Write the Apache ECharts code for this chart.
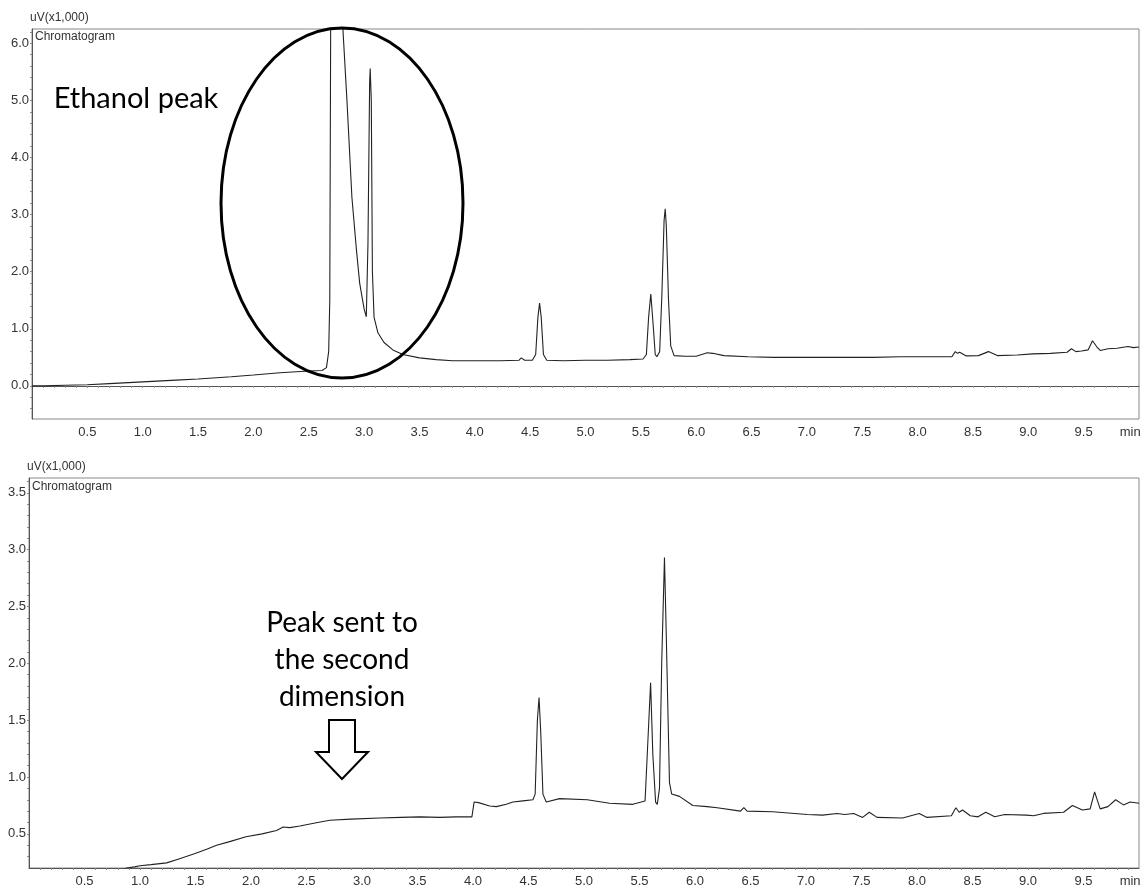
<!DOCTYPE html>
<html>
<head>
<meta charset="utf-8">
<script src="https://cdn.jsdelivr.net/npm/echarts@6/dist/echarts.min.js"></script>
<style>
html,body{margin:0;padding:0;background:#fff;}
#chart{width:1145px;height:892px;}
</style>
</head>
<body>
<div id="chart"></div>
<script>
// ---- Data (time in min, signal in uV x1,000) ----
const topTime = [0.00,0.10,0.30,0.50,0.70,1.00,1.30,1.50,1.80,2.00,2.24,2.50,2.62,2.66,2.68,2.69,2.70,2.80,2.81,2.845,2.89,2.93,2.96,3.00,3.02,3.035,3.05,3.055,3.065,3.075,3.09,3.125,3.18,3.26,3.35,3.50,3.65,3.80,4.00,4.23,4.40,4.42,4.45,4.52,4.55,4.57,4.585,4.60,4.62,4.65,4.80,5.00,5.20,5.40,5.52,5.55,5.57,5.59,5.61,5.63,5.645,5.67,5.69,5.71,5.72,5.73,5.75,5.77,5.80,5.90,6.00,6.05,6.10,6.15,6.25,6.47,6.70,7.00,7.30,7.60,7.84,8.10,8.31,8.34,8.36,8.38,8.44,8.55,8.64,8.72,8.90,9.04,9.20,9.35,9.39,9.43,9.48,9.54,9.58,9.62,9.65,9.72,9.80,9.90,9.95,10.00];
const topSignal = [0.00,0.00,0.01,0.02,0.04,0.07,0.10,0.12,0.16,0.19,0.23,0.26,0.27,0.32,0.60,1.50,7.50,7.50,6.20,5.00,3.30,2.40,1.80,1.35,1.21,2.50,5.30,5.56,5.00,2.00,1.20,0.93,0.76,0.63,0.55,0.49,0.46,0.44,0.44,0.44,0.45,0.49,0.45,0.45,0.55,1.20,1.45,1.20,0.55,0.45,0.44,0.45,0.45,0.46,0.47,0.55,1.20,1.61,1.10,0.55,0.51,0.60,1.60,2.90,3.10,2.80,1.50,0.70,0.53,0.52,0.52,0.55,0.58,0.57,0.53,0.51,0.50,0.50,0.50,0.50,0.51,0.51,0.51,0.60,0.57,0.59,0.525,0.53,0.60,0.53,0.54,0.56,0.57,0.59,0.65,0.60,0.61,0.63,0.79,0.68,0.62,0.65,0.66,0.69,0.67,0.68];

const bottomTime = [0.60,0.88,0.95,1.00,1.10,1.24,1.35,1.49,1.60,1.69,1.80,1.955,2.10,2.23,2.29,2.35,2.44,2.60,2.71,2.90,3.16,3.35,3.52,3.70,3.85,3.99,4.01,4.05,4.15,4.21,4.30,4.36,4.45,4.54,4.56,4.58,4.595,4.61,4.63,4.66,4.78,5.03,5.23,5.44,5.55,5.57,5.60,5.62,5.645,5.66,5.68,5.70,5.725,5.74,5.77,5.79,5.86,5.98,6.11,6.20,6.41,6.44,6.47,6.70,7.01,7.15,7.28,7.35,7.43,7.51,7.57,7.64,7.87,8.02,8.09,8.31,8.35,8.38,8.41,8.48,8.55,8.62,8.70,8.79,8.99,9.05,9.14,9.32,9.40,9.49,9.56,9.60,9.65,9.72,9.79,9.86,9.92,10.00];
const bottomSignal = [0.05,0.20,0.21,0.22,0.23,0.245,0.28,0.325,0.365,0.40,0.43,0.475,0.50,0.53,0.56,0.555,0.57,0.60,0.62,0.63,0.64,0.645,0.65,0.645,0.65,0.65,0.78,0.775,0.745,0.74,0.76,0.78,0.79,0.80,0.85,1.50,1.70,1.40,0.85,0.78,0.81,0.80,0.77,0.76,0.79,1.20,1.83,1.20,0.78,0.76,0.90,2.00,2.93,2.30,0.95,0.85,0.83,0.75,0.74,0.73,0.70,0.73,0.70,0.695,0.67,0.665,0.68,0.67,0.68,0.645,0.69,0.645,0.64,0.68,0.645,0.66,0.73,0.69,0.71,0.66,0.65,0.69,0.65,0.67,0.665,0.66,0.68,0.69,0.75,0.71,0.72,0.87,0.72,0.74,0.80,0.755,0.78,0.77];

// tick / label values
const xLabelValues = [0.5,1.0,1.5,2.0,2.5,3.0,3.5,4.0,4.5,5.0,5.5,6.0,6.5,7.0,7.5,8.0,8.5,9.0,9.5,9.92];
const xUnitLabel = 'min';
const topYLabels = [0,1,2,3,4,5,6];
const bottomYLabels = [0.5,1.0,1.5,2.0,2.5,3.0,3.5];
const yUnitLabel = 'uV(x1,000)';
const panelTitle = 'Chromatogram';

function steps(a, b, s) {
  const out = [];
  for (let v = a; v <= b + 1e-9; v += s) out.push(Math.round(v * 1000) / 1000);
  return out;
}
const xTickValues = steps(0.1, 9.9, 0.1);
const topYTicks = steps(-0.4, 6.2, 0.2);
const bottomYTicks = steps(0.3, 3.6, 0.1);

const pairs = (t, v) => t.map((x, i) => [x, v[i]]);

const axisFont = "'Liberation Sans',Arial,sans-serif";
const noteFont = "Lato,'Open Sans',sans-serif";

function xAxisCfg(gridIndex) {
  return {
    type: 'value', gridIndex: gridIndex, min: 0, max: 10, interval: 0.5,
    axisLine: { show: true, lineStyle: { color: '#555', width: 1 } },
    axisTick: { show: true, customValues: xTickValues, length: 2, lineStyle: { color: '#888' } },
    axisLabel: {
      customValues: xLabelValues, color: '#333', fontSize: 13, fontFamily: axisFont, margin: 7,
      formatter: v => (v > 9.9 ? xUnitLabel : v.toFixed(1))
    },
    splitLine: { show: false }
  };
}
function yAxisCfg(gridIndex, min, max, labels, ticks) {
  return {
    type: 'value', gridIndex: gridIndex, min: min, max: max,
    axisLine: { show: true, lineStyle: { color: '#555', width: 1 } },
    axisTick: { show: true, customValues: ticks, length: 2, lineStyle: { color: '#888' } },
    axisLabel: { customValues: labels, color: '#333', fontSize: 13, fontFamily: axisFont, margin: 3,
      formatter: v => v.toFixed(1) },
    splitLine: { show: false }
  };
}

const chart = echarts.init(document.getElementById('chart'), null, { renderer: 'canvas' });
chart.setOption({
  animation: false,
  backgroundColor: '#fff',
  grid: [
    { left: 32, right: 6, top: 29, height: 390, show: true, borderColor: '#888', borderWidth: 1, backgroundColor: 'transparent' },
    { left: 29, right: 6, top: 478, height: 390, show: true, borderColor: '#888', borderWidth: 1, backgroundColor: 'transparent' }
  ],
  xAxis: [xAxisCfg(0), xAxisCfg(1)],
  yAxis: [
    yAxisCfg(0, -0.58, 6.25, topYLabels, topYTicks),
    yAxisCfg(1, 0.2, 3.63, bottomYLabels, bottomYTicks)
  ],
  series: [
    { type: 'line', xAxisIndex: 0, yAxisIndex: 0, data: pairs(topTime, topSignal), showSymbol: false, clip: true,
      lineStyle: { color: '#222', width: 1.1 } },
    { type: 'line', xAxisIndex: 1, yAxisIndex: 1, data: pairs(bottomTime, bottomSignal), showSymbol: false, clip: true,
      lineStyle: { color: '#222', width: 1.1 } }
  ],
  graphic: [
    { type: 'text', left: 30, top: 12, style: { text: yUnitLabel, fontSize: 12, fontFamily: axisFont, fill: '#333' } },
    { type: 'text', left: 35, top: 31, style: { text: panelTitle, fontSize: 12, fontFamily: axisFont, fill: '#333' } },
    { type: 'text', left: 27, top: 461, style: { text: yUnitLabel, fontSize: 12, fontFamily: axisFont, fill: '#333' } },
    { type: 'text', left: 32, top: 481, style: { text: panelTitle, fontSize: 12, fontFamily: axisFont, fill: '#333' } },
    { type: 'ellipse', shape: { cx: 342, cy: 203, rx: 121, ry: 175 }, style: { fill: 'none', stroke: '#000', lineWidth: 3 }, z: 100 },
    { type: 'text', x: 136, y: 99, style: { text: 'Ethanol peak', fontSize: 29, fontFamily: noteFont, fill: '#000', align: 'center', verticalAlign: 'middle' }, z: 100 },
    { type: 'text', x: 342, y: 660, style: { text: 'Peak sent to\nthe second\ndimension', fontSize: 28, lineHeight: 37, fontFamily: noteFont, fill: '#000', align: 'center', verticalAlign: 'middle' }, z: 100 },
    { type: 'polygon', shape: { points: [[329,720],[355,720],[355,752],[368,752],[342,779],[316,752],[329,752]] },
      style: { fill: '#fff', stroke: '#000', lineWidth: 2 }, z: 100 }
  ]
});
</script>
</body>
</html>
